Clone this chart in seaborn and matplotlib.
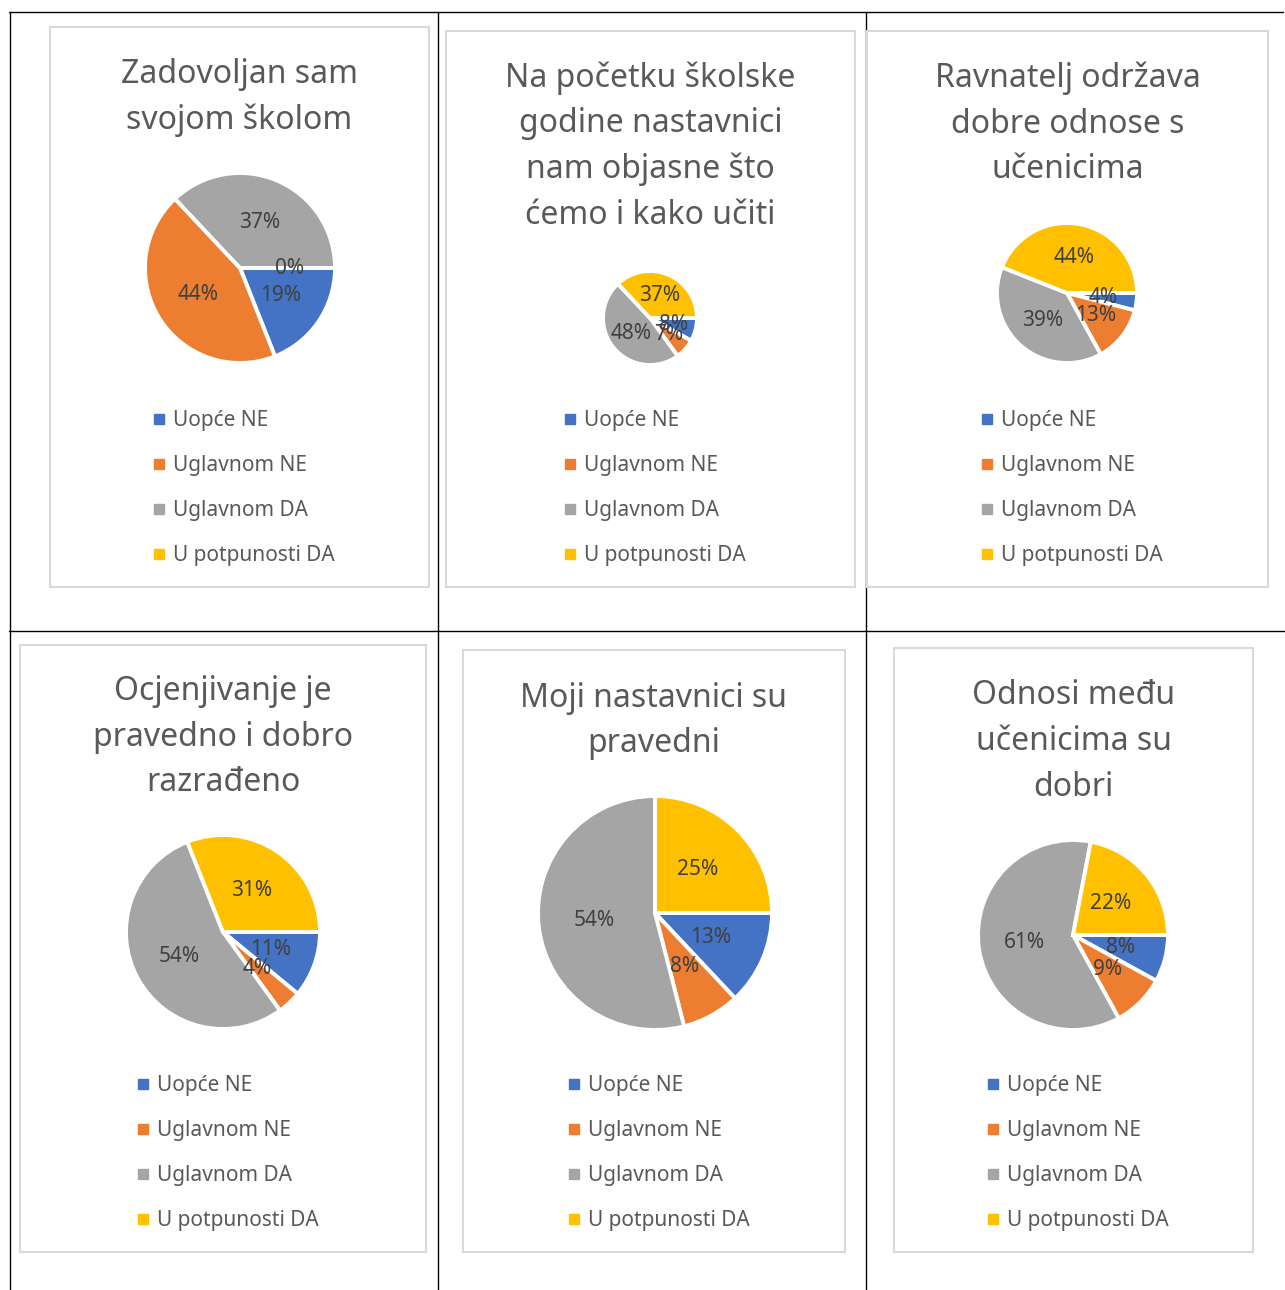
import matplotlib
matplotlib.use("Agg")
import matplotlib.pyplot as plt
from matplotlib.patches import Rectangle
from matplotlib.lines import Line2D
import seaborn as sns

W, H = 1285, 1290

categories = ["Uopće NE", "Uglavnom NE", "Uglavnom DA", "U potpunosti DA"]
colors = ["#4472C4", "#ED7D31", "#A5A5A5", "#FFC000"]

titles = [
    "Zadovoljan sam\nsvojom školom",
    "Na početku školske\ngodine nastavnici\nnam objasne što\nćemo i kako učiti",
    "Ravnatelj održava\ndobre odnose s\nučenicima",
    "Ocjenjivanje je\npravedno i dobro\nrazrađeno",
    "Moji nastavnici su\npravedni",
    "Odnosi među\nučenicima su\ndobri",
]

# percentages, in order of categories
zadovoljan = [19, 44, 37, 0]
pocetak_godine = [8, 7, 48, 37]
ravnatelj = [4, 13, 39, 44]
ocjenjivanje = [11, 4, 54, 31]
pravedni = [13, 8, 54, 25]
odnosi = [8, 9, 61, 22]
values = [zadovoljan, pocetak_godine, ravnatelj, ocjenjivanje, pravedni, odnosi]

# layout in pixels: chart box, pie centre + radius, title middle y, legend (left x, middle y)
boxes = [(50, 27, 429, 587), (446, 31, 855, 587), (867, 31, 1268, 587),
         (20, 645, 426, 1252), (463, 650, 845, 1252), (894, 648, 1253, 1252)]
pies = [(240, 268, 95), (650, 318, 47), (1067, 293, 70),
        (223, 932, 97), (655, 913, 117), (1073, 935, 95)]
title_y = [97.5, 146.5, 124, 737, 721, 741.5]
legend_pos = [(153, 488), (564, 488), (981, 488),
              (137, 1153), (568, 1153), (987, 1153)]


def fx(x):
    return x / W


def fy(y):
    return 1 - y / H


sns.set_theme(style="white")
plt.rcParams['font.family'] = ['Noto Sans', 'DejaVu Sans']

fig = plt.figure(figsize=(W / 100, H / 100), dpi=100)

# table grid
grid = [((9, 1283), (12, 12)), ((9, 1285), (631, 631)),
        ((10, 10), (12, 1290)), ((438, 438), (12, 1290)), ((866, 866), (12, 1290))]
for xs, ys in grid:
    fig.add_artist(Line2D([fx(x) for x in xs], [fy(y) for y in ys],
                          transform=fig.transFigure, color="black", lw=1.0, zorder=-2))

handles = [Line2D([], [], marker="s", linestyle="none", markersize=6.5,
                  markerfacecolor=c, markeredgecolor=c) for c in colors]

for i in range(6):
    x0, y0, x1, y1 = boxes[i]
    fig.add_artist(Rectangle((fx(x0), fy(y1)), (x1 - x0) / W, (y1 - y0) / H,
                             transform=fig.transFigure, facecolor="white",
                             edgecolor="#D9D9D9", lw=1.5, zorder=-1))

    fig.text(fx((x0 + x1) / 2), fy(title_y[i]), titles[i], ha="center", va="center",
             fontsize=23, color="#595959", linespacing=1.5)

    cx, cy, r = pies[i]
    ax = fig.add_axes([fx(cx - r), fy(cy + r), 2 * r / W, 2 * r / H])
    ax.pie(values[i], colors=colors, startangle=0, counterclock=False,
           autopct="%.0f%%", pctdistance=0.52,
           wedgeprops=dict(edgecolor="white", linewidth=2.8),
           textprops=dict(color="#404040", fontsize=15))
    ax.set_xlim(-1, 1)
    ax.set_ylim(-1, 1)
    ax.patch.set_visible(False)

    lx, ly = legend_pos[i]
    fig.legend(handles, categories, loc="center left",
               bbox_to_anchor=(fx(lx), fy(ly)), bbox_transform=fig.transFigure,
               frameon=False, fontsize=15, labelcolor="#595959",
               handlelength=0.6, handletextpad=0.35, labelspacing=1.15,
               borderpad=0, borderaxespad=0)

fig.savefig("out.png", dpi=100, facecolor="white")
